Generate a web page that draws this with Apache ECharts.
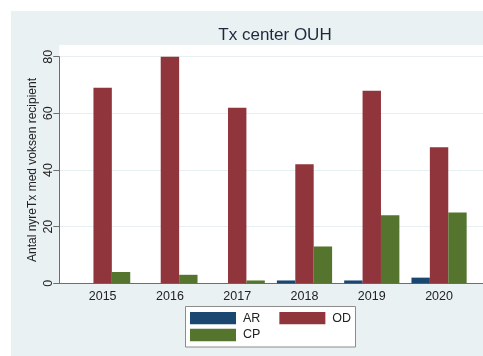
<!DOCTYPE html>
<html>
<head>
<meta charset="utf-8">
<script src="https://cdn.jsdelivr.net/npm/echarts@6/dist/echarts.min.js"></script>
<style>
  html, body { margin: 0; padding: 0; background: #ffffff; }
  #chart { width: 483px; height: 356px; }
</style>
</head>
<body>
<div id="chart"></div>
<script>
// Kidney transplants per year at OUH, by donor type
const years = ['2015', '2016', '2017', '2018', '2019', '2020'];
const seriesNames = ['AR', 'OD', 'CP'];
const arValues = [0, 0, 0, 1, 1, 2];
const odValues = [69, 80, 62, 42, 68, 48];
const cpValues = [4, 3, 1, 13, 24, 25];
const yTicks = [0, 20, 40, 60, 80];

const colors = ['#1a476f', '#90353b', '#55752f'];
const font = 'Liberation Sans, Arial, sans-serif';

const chart = echarts.init(document.getElementById('chart'));

const plotTop = 56.7;      // y of the 80 line
const plotBottom = 72.7;   // distance from bottom to baseline

const legendCommon = {
  orient: 'horizontal',
  padding: 0,
  itemWidth: 46,
  itemHeight: 12.3,
  icon: 'rect',
  textStyle: { fontFamily: font, fontSize: 12.5, color: '#222222', padding: [0, 0, 0, 2] }
};

chart.setOption({
  animation: false,
  textStyle: { fontFamily: font },
  graphic: [
    { type: 'rect', z: -10, silent: true,
      shape: { x: 11, y: 11, width: 472, height: 345 },
      style: { fill: '#e9f1f3' } },
    { type: 'rect', z: -9, silent: true,
      shape: { x: 59.3, y: 45, width: 424, height: 238.3 },
      style: { fill: '#ffffff' } },
    // legend frame
    { type: 'rect', z: -9, silent: true,
      shape: { x: 185.5, y: 306.5, width: 170, height: 40.5 },
      style: { fill: '#ffffff', stroke: '#8c8c8c', lineWidth: 1 } }
  ],
  title: {
    text: 'Tx center OUH',
    left: 270,
    textAlign: 'center',
    top: 22,
    textStyle: { fontFamily: font, fontSize: 17, fontWeight: 'normal', color: '#1e2a3c' }
  },
  legend: [
    Object.assign({}, legendCommon, { data: [seriesNames[0], seriesNames[1]], left: 190, top: 311.7, itemGap: 19 }),
    Object.assign({}, legendCommon, { data: [seriesNames[2]], left: 190, top: 328.5 })
  ],
  grid: [
    { left: 59.3, right: 0, top: plotTop, bottom: plotBottom },
    { left: 69, right: 10.3, top: plotTop, bottom: plotBottom }
  ],
  xAxis: [
    { gridIndex: 0, type: 'value', min: 0, max: 1,
      axisLine: { show: true, lineStyle: { color: '#6e6e6e', width: 1 } },
      axisTick: { show: false }, axisLabel: { show: false }, splitLine: { show: false } },
    { gridIndex: 1, type: 'category', data: years,
      axisLine: { show: false }, axisTick: { show: false },
      axisLabel: { margin: 7, fontFamily: font, fontSize: 12.5, color: '#222222' } }
  ],
  yAxis: [
    { gridIndex: 0, type: 'value', min: yTicks[0], max: yTicks[yTicks.length - 1], interval: 20,
      name: 'Antal nyreTx med voksen recipient',
      nameLocation: 'middle', nameRotate: 90, nameGap: 21, nameMoveOverlap: false,
      nameTextStyle: { fontFamily: font, fontSize: 12, color: '#222222' },
      axisLine: { show: true, lineStyle: { color: '#6e6e6e', width: 1 } },
      axisTick: { show: true, length: 6, lineStyle: { color: '#6e6e6e' } },
      axisLabel: { rotate: 90, margin: 4, fontFamily: font, fontSize: 12.5, color: '#222222' },
      splitLine: { show: true, lineStyle: { color: '#e6eff1', width: 1 } } },
    { gridIndex: 1, type: 'value', min: yTicks[0], max: yTicks[yTicks.length - 1], interval: 20, show: false }
  ],
  series: [
    { name: seriesNames[0], type: 'bar', xAxisIndex: 1, yAxisIndex: 1, data: arValues,
      barWidth: 18.4, barGap: '0%', itemStyle: { color: colors[0] } },
    { name: seriesNames[1], type: 'bar', xAxisIndex: 1, yAxisIndex: 1, data: odValues,
      barWidth: 18.4, barGap: '0%', itemStyle: { color: colors[1] } },
    { name: seriesNames[2], type: 'bar', xAxisIndex: 1, yAxisIndex: 1, data: cpValues,
      barWidth: 18.4, barGap: '0%', itemStyle: { color: colors[2] } }
  ]
});
</script>
</body>
</html>
